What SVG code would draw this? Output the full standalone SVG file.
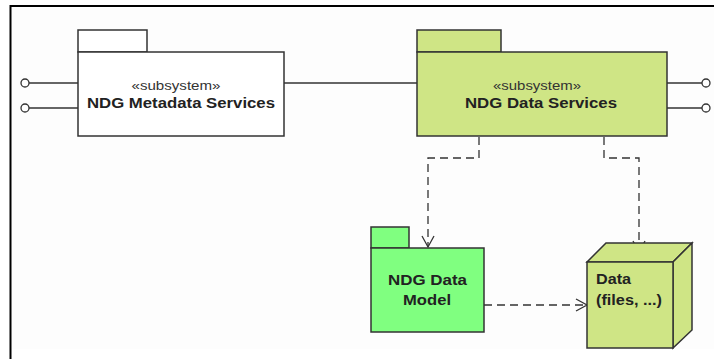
<svg xmlns="http://www.w3.org/2000/svg" width="714" height="359" viewBox="0 0 714 359">
<defs>
<style>
.frame{stroke:#000;stroke-width:2;fill:none}
.box{stroke:#333;stroke-width:1.5}
.line{stroke:#333;stroke-width:1.3;fill:none}
.dash{stroke:#333;stroke-width:1.3;fill:none;stroke-dasharray:8 5}
.lol{stroke:#333;stroke-width:1.3;fill:#fff}
.ster{font-family:"Liberation Sans",Arial,sans-serif;font-size:13px;fill:#333;text-anchor:middle}
.name{font-family:"Liberation Sans",Arial,sans-serif;font-size:14.5px;font-weight:bold;fill:#222;text-anchor:middle}
.nodet{font-family:"Liberation Sans",Arial,sans-serif;font-size:14.5px;font-weight:bold;fill:#222}
</style>
<marker id="open" markerWidth="14" markerHeight="14" refX="12" refY="7" orient="auto" markerUnits="userSpaceOnUse">
<path d="M1,1 L12,7 L1,13" fill="none" stroke="#333" stroke-width="1.3"/>
</marker>
</defs>
<rect x="0" y="0" width="714" height="359" fill="#fff"/>
<rect x="12" y="8" width="702" height="341" fill="#fdfdfd"/>
<path class="frame" d="M10.5,359 L10.5,6 L714,6"/>

<g id="connectors">
<line class="line" x1="284" y1="83" x2="417" y2="83"/>
<line class="line" x1="29" y1="83" x2="78" y2="83"/>
<line class="line" x1="29" y1="108" x2="78" y2="108"/>
<circle class="lol" cx="25" cy="83" r="4"/>
<circle class="lol" cx="25" cy="108" r="4"/>
<line class="line" x1="667" y1="83" x2="702" y2="83"/>
<line class="line" x1="667" y1="108" x2="702" y2="108"/>
<circle class="lol" cx="706" cy="83" r="4"/>
<circle class="lol" cx="706" cy="108" r="4"/>
<path class="dash" d="M479,137 L479,158 L428,158 L428,247" marker-end="url(#open)"/>
<path class="dash" d="M604,137 L604,158 L639,158 L639,252" marker-end="url(#open)"/>
<path class="dash" d="M484,305 L587,305" marker-end="url(#open)"/>
</g>

<g id="metadata-services">
<rect class="box" x="78" y="30" width="69" height="22" fill="#fff"/>
<rect class="box" x="78" y="52" width="206" height="84" fill="#fff"/>
<text class="ster" x="176" y="90" textLength="89" lengthAdjust="spacingAndGlyphs">«subsystem»</text>
<text class="name" x="181" y="108" textLength="188" lengthAdjust="spacingAndGlyphs">NDG Metadata Services</text>
</g>

<g id="data-services">
<rect class="box" x="417" y="30" width="84" height="22" fill="#cfe585"/>
<rect class="box" x="417" y="52" width="250" height="84" fill="#cfe585"/>
<text class="ster" x="537" y="90" textLength="88" lengthAdjust="spacingAndGlyphs">«subsystem»</text>
<text class="name" x="541" y="108" textLength="152" lengthAdjust="spacingAndGlyphs">NDG Data Services</text>
</g>

<g id="data-model">
<rect class="box" x="371" y="227" width="38" height="21" fill="#80ff80"/>
<rect class="box" x="371" y="248" width="113" height="84" fill="#80ff80"/>
<text class="name" x="427.5" y="285" textLength="79" lengthAdjust="spacingAndGlyphs">NDG Data</text>
<text class="name" x="427" y="305" textLength="48" lengthAdjust="spacingAndGlyphs">Model</text>
</g>

<g id="data-node">
<polygon class="box" points="587,262 606,243 692,243 673,262" fill="#cfe585"/>
<polygon class="box" points="673,262 692,243 692,330 673,348" fill="#cfe585"/>
<rect class="box" x="587" y="262" width="86" height="86" fill="#cfe585"/>
<text class="nodet" x="596" y="284" textLength="35" lengthAdjust="spacingAndGlyphs">Data</text>
<text class="nodet" x="596" y="305" textLength="66" lengthAdjust="spacingAndGlyphs">(files, ...)</text>
</g>
</svg>
